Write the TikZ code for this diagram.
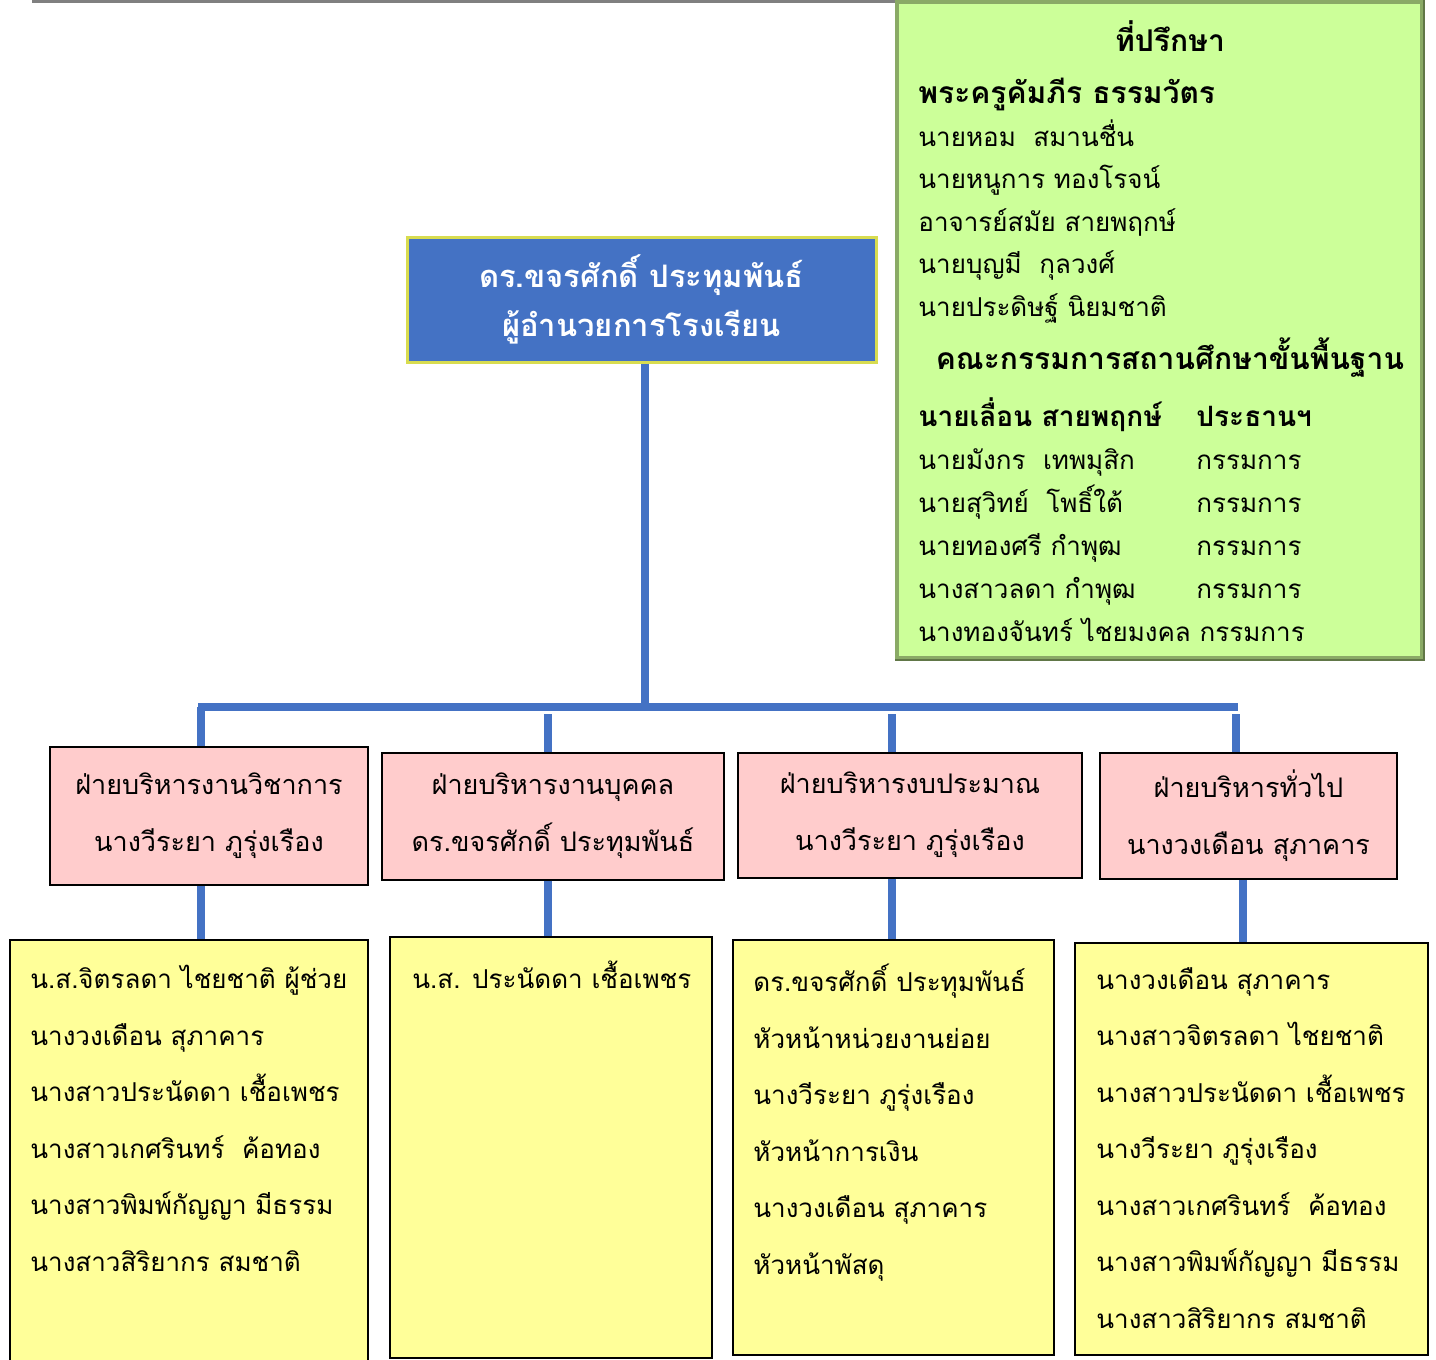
\documentclass[tikz,border=0pt]{standalone}
\usepackage{fontspec}
\newfontfamily\thaifont[Script=Thai]{Loma}
\definecolor{linkblue}{HTML}{4472C4}
\definecolor{pinkbox}{HTML}{FFCCCC}
\definecolor{yellowbox}{HTML}{FFFF99}
\definecolor{greenbox}{HTML}{CCFF99}
\definecolor{greenedge}{HTML}{8AAA66}
\definecolor{glow}{HTML}{D8DC50}

\begin{document}
\begin{tikzpicture}[x=0.5pt,y=-0.5pt]
\tikzstyle{every node}+=[inner sep=0pt]
\tikzstyle{link}=[linkblue, line width=4pt]
\tikzstyle{dept}=[draw=black, line width=1pt, fill=pinkbox, align=center, font=\thaifont\fontsize{13.5}{28.5}\selectfont]
\tikzstyle{staff}=[draw=black, line width=1pt, fill=yellowbox]
\tikzstyle{names}=[anchor=north west, align=left, font=\thaifont\fontsize{13}{28.25}\selectfont]
\useasboundingbox (0,0) rectangle (1436,1360);
\clip (0,0) rectangle (1436,1360);
\draw [gray, line width=1.5pt] (32,1) -- (1420,1);
% advisers and school board
\node [draw=greenedge, line width=2pt, fill=greenbox, minimum width=262.5pt, minimum height=328pt] (adv) at (1159.5,330) {};
\draw [greenedge!70!black, line width=1pt] (adv.north east) -- (adv.south east) -- (adv.south west);
\node [font=\thaifont\bfseries\fontsize{15}{20}\selectfont] (advtitle) at (1170,36) {ที่ปรึกษา};
\node [anchor=north west, align=left, font=\thaifont\fontsize{13}{21.25}\selectfont] (advlist) at (918,78)
  {{\bfseries\fontsize{15}{21.25}\selectfont พระครูคัมภีร ธรรมวัตร}\\
   นายหอม\ \ สมานชื่น\\
   นายหนูการ ทองโรจน์\\
   อาจารย์สมัย สายพฤกษ์\\
   นายบุญมี\ \ กุลวงศ์\\
   นายประดิษฐ์ นิยมชาติ};
\node [font=\thaifont\bfseries\fontsize{15}{20}\selectfont] (boardtitle) at (1170,358) {คณะกรรมการสถานศึกษาขั้นพื้นฐาน};
\node [anchor=north west, align=left, font=\thaifont\fontsize{13}{21.5}\selectfont] (boardlist) at (918,397)
  {{\bfseries\fontsize{14}{21.5}\selectfont\makebox[139pt][l]{นายเลื่อน สายพฤกษ์}ประธานฯ}\\
   \makebox[139pt][l]{นายมังกร\ \ เทพมุสิก}กรรมการ\\
   \makebox[139pt][l]{นายสุวิทย์\ \ โพธิ์ใต้}กรรมการ\\
   \makebox[139pt][l]{นายทองศรี กำพุฒ}กรรมการ\\
   \makebox[139pt][l]{นางสาวลดา กำพุฒ}กรรมการ\\
   นางทองจันทร์ ไชยมงคล กรรมการ};
% director
\node [draw=glow, line width=1.5pt, fill=linkblue, minimum width=234.5pt, minimum height=62.5pt, text=white, align=center, font=\thaifont\bfseries\fontsize{15.5}{24.5}\selectfont] (dir) at (641.5,299.5)
  {ดร.ขจรศักดิ์ ประทุมพันธ์\\ผู้อำนวยการโรงเรียน};
% departments
\node [dept, minimum width=159pt, minimum height=69pt] (p1) at (209,816) {ฝ่ายบริหารงานวิชาการ\\นางวีระยา ภูรุ่งเรือง};
\node [dept, minimum width=171pt, minimum height=63.5pt] (p2) at (553,816) {ฝ่ายบริหารงานบุคคล\\ดร.ขจรศักดิ์ ประทุมพันธ์};
\node [dept, minimum width=172pt, minimum height=62.5pt] (p3) at (910,815) {ฝ่ายบริหารงบประมาณ\\นางวีระยา ภูรุ่งเรือง};
\node [dept, minimum width=148.5pt, minimum height=63pt] (p4) at (1248.5,816) {ฝ่ายบริหารทั่วไป\\นางวงเดือน สุภาคาร};
% staff
\node [staff, minimum width=179pt, minimum height=220pt] (y1) at (189,1160) {};
\node [staff, minimum width=161pt, minimum height=210.5pt] (y2) at (551,1147.5) {};
\node [staff, minimum width=160.5pt, minimum height=207.5pt] (y3) at (893.5,1147.5) {};
\node [staff, minimum width=176.5pt, minimum height=206pt] (y4) at (1251.5,1149) {};
\node [names] (n1) at (30,965) {น.ส.จิตรลดา ไชยชาติ ผู้ช่วย\\นางวงเดือน สุภาคาร\\นางสาวประนัดดา เชื้อเพชร\\นางสาวเกศรินทร์\ \ ค้อทอง\\นางสาวพิมพ์กัญญา มีธรรม\\นางสาวสิริยากร สมชาติ};
\node [names] (n2) at (412,961) {น.ส. ประนัดดา เชื้อเพชร};
\node [names] (n3) at (753,964) {ดร.ขจรศักดิ์ ประทุมพันธ์\\หัวหน้าหน่วยงานย่อย\\นางวีระยา ภูรุ่งเรือง\\หัวหน้าการเงิน\\นางวงเดือน สุภาคาร\\หัวหน้าพัสดุ};
\node [names] (n4) at (1096,967) {นางวงเดือน สุภาคาร\\นางสาวจิตรลดา ไชยชาติ\\นางสาวประนัดดา เชื้อเพชร\\นางวีระยา ภูรุ่งเรือง\\นางสาวเกศรินทร์\ \ ค้อทอง\\นางสาวพิมพ์กัญญา มีธรรม\\นางสาวสิริยากร สมชาติ};
% connectors
\coordinate (hub) at (645,707);
\coordinate (barL) at (198,707);
\coordinate (barR) at (1238,707);
\coordinate (t1) at (201,707);
\coordinate (t2) at (548,714);
\coordinate (t3) at (892,714);
\coordinate (t4) at (1236,714);
\draw [link] (dir.south -| hub) -- (hub);
\draw [link] (barL) -- (barR);
\draw [link] (t1) -- (t1 |- p1.north);
\draw [link] (t2) -- (t2 |- p2.north);
\draw [link] (t3) -- (t3 |- p3.north);
\draw [link] (t4) -- (t4 |- p4.north);
\draw [link] (p1.south -| t1) -- (y1.north -| t1);
\draw [link] (p2.south -| t2) -- (y2.north -| t2);
\draw [link] (p3.south -| t3) -- (y3.north -| t3);
\draw [link] ([xshift=3.5pt]p4.south -| t4) -- ([xshift=3.5pt]y4.north -| t4);
\end{tikzpicture}
\end{document}
